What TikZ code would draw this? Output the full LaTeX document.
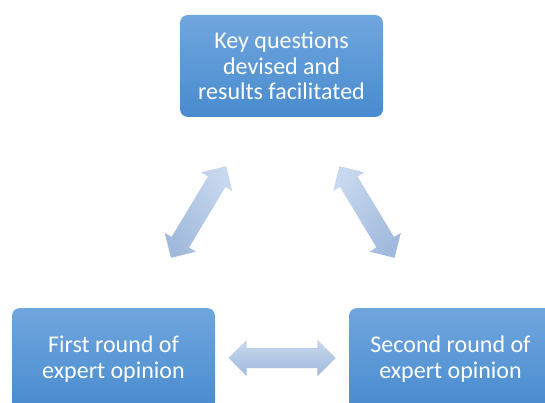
\documentclass[tikz,border=0pt]{standalone}
\usepackage{fontspec}
\setmainfont{Carlito}
\usetikzlibrary{shapes.arrows}

\definecolor{boxtop}{RGB}{112,166,222}
\definecolor{boxbot}{RGB}{72,139,206}
\definecolor{linktop}{RGB}{200,216,238}
\definecolor{linkbot}{RGB}{160,185,220}

\tikzset{
    stage/.style={shape=rectangle, rounded corners=8pt, minimum width=203pt,
        minimum height=102pt, top color=boxtop, bottom color=boxbot,
        text=white, align=center, font=\fontsize{24}{25.5}\selectfont},
    link/.style={shape=double arrow, inner xsep=0pt, inner ysep=10pt,
        minimum height=107pt, double arrow head extend=8pt,
        double arrow tip angle=90, top color=linktop, bottom color=linkbot}
}

\begin{document}
\begin{tikzpicture}[x=1pt, y=-1pt]
    \clip (0,0) rectangle (545,403);

    \node[stage] (key) at (281.5,66) {Key questions\\devised and\\results facilitated};
    \node[stage] (first) at (113.5,359) {First round of\\expert opinion};
    \node[stage] (second) at (450.5,359) {Second round of\\expert opinion};

    \node[link, rotate=59, shading angle=-59] (keyfirst) at (198.5,212) {};
    \node[link, rotate=-59, shading angle=59] (keysecond) at (367,212) {};
    \node[link] (firstsecond) at (282,358) {};
\end{tikzpicture}
\end{document}
